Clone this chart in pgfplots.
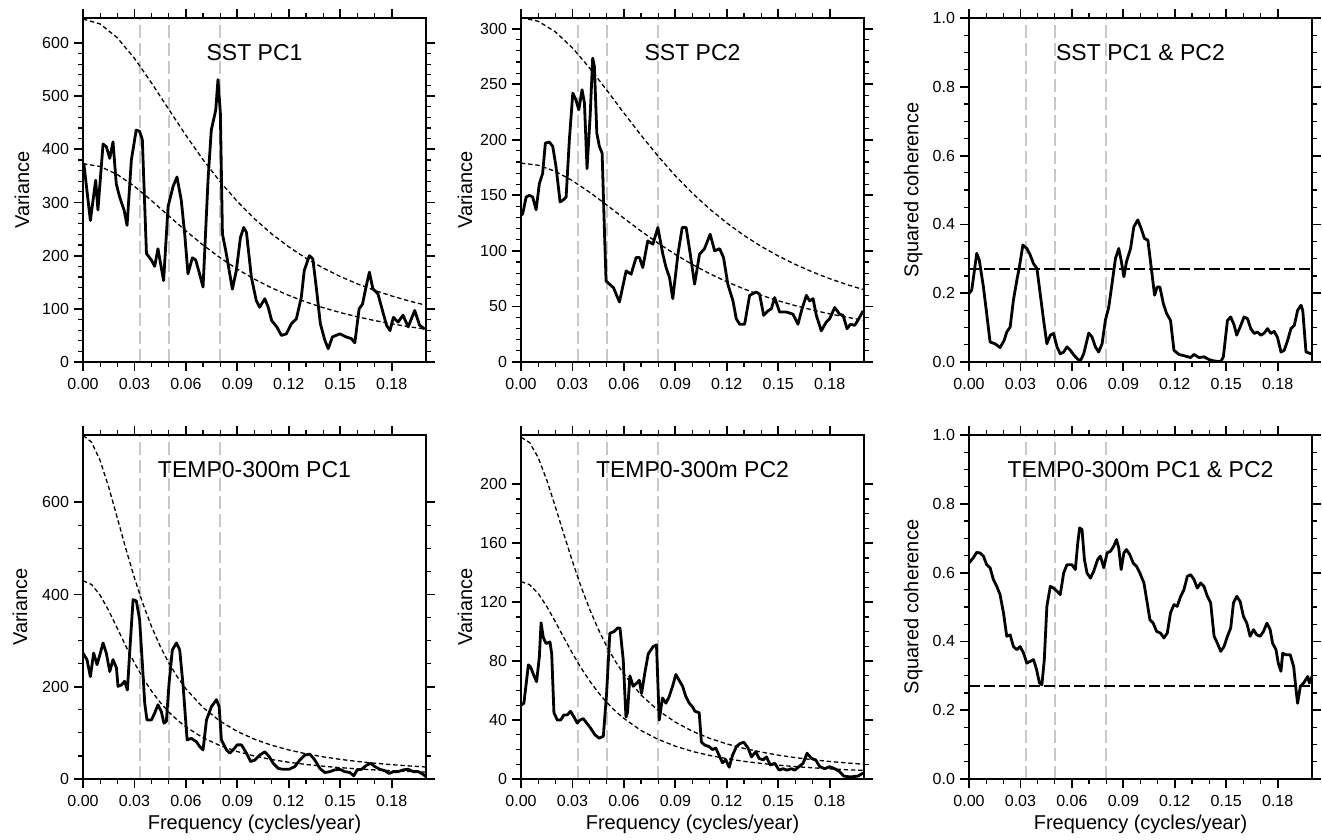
\documentclass[border=0pt]{standalone}
\usepackage{pgfplots}
\pgfplotsset{compat=1.18}
\usepackage{fontspec}
\setmainfont{Liberation Sans}
\definecolor{refgray}{RGB}{200,200,200}
\pgfplotsset{
  panel/.style={
    scale only axis, width=171.5pt, height=172pt,
    xmin=0, xmax=0.2, ymin=0,
    xtick={0,0.03,0.06,0.09,0.12,0.15,0.18},
    minor x tick num=2,
    scaled ticks=false,
    tick align=outside, tick pos=both,
    major tick length=4.5pt, minor tick length=2.5pt,
    every major tick/.style={black, line width=0.9pt},
    every minor tick/.style={black, line width=0.6pt},
    axis line style={line width=1pt},
    /pgf/number format/assume math mode=true,
    xticklabel style={/pgf/number format/.cd, fixed, fixed zerofill, precision=2},
    tick label style={font=\fontsize{8}{9}\selectfont},
    yticklabel style={xshift=1pt},
    label style={font=\fontsize{9.7}{11}\selectfont},
    axis on top,
    anchor=south west,
  },
  varax/.style={yticklabel style={/pgf/number format/.cd, fixed, precision=0}},
  cohax/.style={ymax=1, ytick={0,0.2,0.4,0.6,0.8,1.0}, minor y tick num=3,
    yticklabel style={/pgf/number format/.cd, fixed, fixed zerofill, precision=1},
    ylabel={Squared coherence}},
  xlab/.style={xlabel={Frequency (cycles/year)},
    every axis x label/.style={at={(axis description cs:0.5,-0.148)}, anchor=base}},
  ylab/.style={every axis y label/.style={at={(axis description cs:#1,0.5)}, rotate=90, anchor=center}},
  dat/.style={black, line width=1.4pt, line join=round},
  rn/.style={black, line width=0.65pt, dash pattern=on 2.2pt off 1.4pt},
  gl/.style={refgray, line width=0.75pt, dash pattern=on 6.5pt off 2.5pt},
  sig/.style={black, line width=0.7pt, dash pattern=on 5.5pt off 2pt},
}
\newcommand{\titlenode}[1]{\node[font=\fontsize{11.5}{13}\selectfont] at (rel axis cs:0.5,0.9) {#1};}
\begin{document}
\begin{tikzpicture}
\path[use as bounding box] (0,0) rectangle (661pt,-420pt);

% ---------------- SST PC1 ----------------
\begin{axis}[panel, varax, at={(41.5pt,-181pt)}, ymax=647,
  ytick={0,100,200,300,400,500,600}, minor y tick num=4,
  ylabel={Variance}, ylab=-0.178]
\addplot[gl] coordinates {(0.0333,0) (0.0333,647)};
\addplot[gl] coordinates {(0.05,0) (0.05,647)};
\addplot[gl] coordinates {(0.08,0) (0.08,647)};
\addplot[rn] coordinates {(0,645) (0.01,635.8) (0.02,609.8) (0.03,571.1) (0.04,524.6) (0.05,475.2) (0.06,426.3) (0.07,380.5) (0.08,338.9) (0.09,301.9) (0.10,269.4) (0.11,241.0) (0.12,216.5) (0.13,195.2) (0.14,176.8) (0.15,160.8) (0.16,146.9) (0.17,134.8) (0.18,124.2) (0.19,114.9) (0.20,106.7)};
\addplot[rn] coordinates {(0,373) (0.01,367.7) (0.02,352.7) (0.03,330.3) (0.04,303.4) (0.05,274.8) (0.06,246.6) (0.07,220.0) (0.08,196.0) (0.09,174.6) (0.10,155.8) (0.11,139.4) (0.12,125.2) (0.13,112.9) (0.14,102.2) (0.15,93.0) (0.16,85.0) (0.17,78.0) (0.18,71.8) (0.19,66.4) (0.20,61.7)};
\addplot[dat] coordinates {(0.0005,373) (0.0043,266) (0.0074,342) (0.0087,286) (0.0117,410) (0.0136,405) (0.0156,383) (0.0175,414) (0.0194,335) (0.0214,310) (0.0240,285) (0.0257,257) (0.0282,380) (0.0310,436) (0.0330,434) (0.0346,418) (0.0370,204) (0.0400,191) (0.0418,180) (0.0437,213) (0.0470,153) (0.0496,292) (0.0525,330) (0.0548,348) (0.0573,304) (0.0593,241) (0.0612,166) (0.0638,196) (0.0657,192) (0.0677,169) (0.0700,141) (0.0729,342) (0.0748,436) (0.0774,474) (0.0787,531) (0.0801,468) (0.0813,241) (0.0836,203) (0.0871,137) (0.0894,172) (0.0918,234) (0.0937,253) (0.0953,244) (0.0982,159) (0.1010,116) (0.1030,103) (0.1060,119) (0.1080,103) (0.1100,78) (0.1130,66) (0.1157,50) (0.1186,53) (0.1215,72) (0.1244,81) (0.1273,122) (0.1290,172) (0.1320,200) (0.1340,194) (0.1360,141) (0.1384,72) (0.1410,41) (0.1430,25) (0.1454,47) (0.1497,53) (0.1536,47) (0.1565,44) (0.1585,36) (0.1610,100) (0.1630,109) (0.1650,141) (0.1670,169) (0.1690,138) (0.1720,128) (0.1746,97) (0.1770,69) (0.1790,59) (0.1810,84) (0.1837,75) (0.1866,88) (0.1896,66) (0.1934,97) (0.1963,69) (0.1993,62)};
\titlenode{SST PC1}
\end{axis}

% ---------------- SST PC2 ----------------
\begin{axis}[panel, varax, at={(260.5pt,-181pt)}, ymax=309.6,
  ytick={0,50,100,150,200,250,300}, minor y tick num=4,
  ylabel={Variance}, ylab=-0.163]
\addplot[gl] coordinates {(0.0333,0) (0.0333,310)};
\addplot[gl] coordinates {(0.05,0) (0.05,310)};
\addplot[gl] coordinates {(0.08,0) (0.08,310)};
\addplot[rn] coordinates {(0,310) (0.01,306.7) (0.02,297.2) (0.03,282.7) (0.04,264.6) (0.05,244.7) (0.06,224.1) (0.07,204.1) (0.08,185.1) (0.09,167.6) (0.10,151.8) (0.11,137.7) (0.12,125.1) (0.13,113.9) (0.14,104.1) (0.15,95.4) (0.16,87.8) (0.17,81.0) (0.18,75.0) (0.19,69.7) (0.20,65.0)};
\addplot[rn] coordinates {(0,179) (0.01,177.1) (0.02,171.6) (0.03,163.2) (0.04,152.8) (0.05,141.3) (0.06,129.4) (0.07,117.8) (0.08,106.9) (0.09,96.8) (0.10,87.7) (0.11,79.5) (0.12,72.2) (0.13,65.8) (0.14,60.1) (0.15,55.1) (0.16,50.7) (0.17,46.8) (0.18,43.3) (0.19,40.3) (0.20,37.5)};
\addplot[dat] coordinates {(0,132) (0.001,133.5) (0.003,148.5) (0.0049,150) (0.0068,148.5) (0.0088,137) (0.0107,160.5) (0.0126,169.6) (0.0142,197) (0.0165,198) (0.0185,194) (0.0204,176) (0.0228,144) (0.0243,145.5) (0.0263,148.5) (0.0282,200) (0.0302,242) (0.032,236) (0.0337,227) (0.0356,245) (0.037,233) (0.0385,174) (0.0403,221) (0.0418,273.5) (0.0428,266) (0.0442,206) (0.0457,194) (0.0473,188) (0.0487,115.6) (0.0496,73) (0.0516,70) (0.0539,67) (0.0555,61) (0.0574,54) (0.0613,82) (0.0642,79) (0.0671,94) (0.0691,94) (0.071,85) (0.0739,109) (0.0769,106) (0.0798,121) (0.0827,97) (0.0846,85) (0.0866,76) (0.0885,57) (0.0915,97) (0.094,121) (0.0963,121) (0.0987,97) (0.1012,70) (0.1041,97) (0.107,102) (0.1103,115) (0.1129,100) (0.1158,102) (0.1181,94) (0.1206,70) (0.1236,55) (0.1255,39) (0.1275,34) (0.1304,34) (0.1333,60) (0.1372,63) (0.1391,61) (0.1415,42) (0.144,46) (0.146,48) (0.1479,58) (0.1508,45) (0.1547,45) (0.1586,43) (0.1615,34) (0.1635,46) (0.1664,60) (0.1683,55) (0.1703,57) (0.1722,42) (0.1751,28) (0.178,36) (0.18,39) (0.1829,49) (0.1858,43) (0.1878,42) (0.1901,30) (0.1921,34) (0.1946,33) (0.197,39) (0.1995,46)};
\titlenode{SST PC2}
\end{axis}

% ---------------- SST coherence ----------------
\begin{axis}[panel, cohax, at={(484.5pt,-181pt)}, ylab=-0.163]
\addplot[gl] coordinates {(0.0333,0) (0.0333,1)};
\addplot[gl] coordinates {(0.05,0) (0.05,1)};
\addplot[gl] coordinates {(0.08,0) (0.08,1)};
\addplot[sig] coordinates {(0,0.27) (0.2,0.27)};
\addplot[dat] coordinates {(0,0.199) (0.0016,0.209) (0.0045,0.316) (0.006,0.296) (0.0084,0.218) (0.0103,0.141) (0.0123,0.058) (0.0152,0.053) (0.0181,0.042) (0.0205,0.063) (0.022,0.087) (0.024,0.102) (0.0259,0.18) (0.0279,0.238) (0.0294,0.277) (0.0314,0.34) (0.0337,0.33) (0.0357,0.311) (0.0376,0.286) (0.0396,0.272) (0.0415,0.199) (0.0435,0.121) (0.0454,0.053) (0.0474,0.078) (0.0493,0.083) (0.0513,0.044) (0.0532,0.024) (0.0552,0.029) (0.0571,0.044) (0.0591,0.034) (0.061,0.021) (0.063,0.010) (0.0649,0.003) (0.0669,0.024) (0.0698,0.084) (0.0717,0.073) (0.0737,0.044) (0.0756,0.029) (0.0776,0.053) (0.0795,0.121) (0.0815,0.16) (0.0834,0.228) (0.0854,0.301) (0.0873,0.33) (0.0887,0.296) (0.0903,0.248) (0.0918,0.291) (0.0942,0.33) (0.0961,0.393) (0.0984,0.413) (0.1004,0.388) (0.1023,0.359) (0.1043,0.354) (0.1062,0.277) (0.1082,0.194) (0.1097,0.218) (0.1113,0.218) (0.1133,0.17) (0.1152,0.141) (0.1175,0.121) (0.1195,0.034) (0.1224,0.022) (0.1263,0.017) (0.1292,0.013) (0.1312,0.022) (0.1341,0.013) (0.137,0.015) (0.14,0.007) (0.1429,0.003) (0.1468,0.001) (0.1483,0.015) (0.1507,0.121) (0.1526,0.131) (0.1546,0.107) (0.1561,0.078) (0.1581,0.102) (0.1604,0.131) (0.1624,0.126) (0.1643,0.097) (0.1663,0.083) (0.1682,0.087) (0.1702,0.078) (0.1721,0.084) (0.1741,0.097) (0.176,0.083) (0.178,0.089) (0.1799,0.071) (0.1819,0.029) (0.1838,0.034) (0.1858,0.063) (0.1877,0.097) (0.1897,0.107) (0.1916,0.15) (0.1936,0.165) (0.1946,0.15) (0.1965,0.029) (0.1995,0.024)};
\titlenode{SST PC1 \& PC2}
\end{axis}

% ---------------- TEMP PC1 ----------------
\begin{axis}[panel, varax, xlab, at={(41.5pt,-389.5pt)}, ymax=746,
  ytick={0,200,400,600}, minor y tick num=3,
  ylabel={Variance}, ylab=-0.184]
\addplot[gl] coordinates {(0.0333,0) (0.0333,746)};
\addplot[gl] coordinates {(0.05,0) (0.05,746)};
\addplot[gl] coordinates {(0.08,0) (0.08,746)};
\addplot[rn] coordinates {(0,745) (0.005,730.5) (0.01,690.6) (0.015,632.7) (0.02,566.3) (0.025,499.2) (0.03,436.0) (0.035,379.5) (0.04,330.1) (0.045,287.9) (0.05,251.9) (0.055,221.4) (0.06,195.6) (0.07,155.0) (0.08,125.2) (0.09,103.1) (0.10,86.3) (0.11,73.2) (0.12,63.0) (0.13,54.7) (0.14,48.1) (0.15,42.6) (0.16,38.1) (0.17,34.3) (0.18,31.1) (0.19,28.4) (0.20,26.0)};
\addplot[rn] coordinates {(0,430) (0.005,421.7) (0.01,398.6) (0.015,365.2) (0.02,326.9) (0.025,288.1) (0.03,251.7) (0.035,219.0) (0.04,190.5) (0.045,166.2) (0.05,145.4) (0.055,127.8) (0.06,112.9) (0.07,89.4) (0.08,72.3) (0.09,59.5) (0.10,49.8) (0.11,42.2) (0.12,36.3) (0.13,31.6) (0.14,27.7) (0.15,24.6) (0.16,22.0) (0.17,19.8) (0.18,17.9) (0.19,16.4) (0.20,15.0)};
\addplot[dat] coordinates {(0,273) (0.0023,259) (0.0043,222) (0.0062,273) (0.0082,248) (0.0101,273) (0.0117,295) (0.0136,273) (0.0156,233) (0.0175,259) (0.0195,241) (0.0204,201) (0.0224,204) (0.0243,212) (0.0259,193) (0.0272,273) (0.0292,389) (0.0311,386) (0.033,346) (0.0346,251) (0.036,164) (0.0373,128) (0.0399,128) (0.0418,143) (0.0437,161) (0.0457,146) (0.0472,121) (0.0486,125) (0.0502,208) (0.0521,280) (0.0545,295) (0.0564,280) (0.0584,201) (0.0607,85) (0.0632,88) (0.0661,81) (0.0681,70) (0.07,63) (0.072,128) (0.0749,157) (0.0778,172) (0.0794,157) (0.0807,85) (0.0837,63) (0.0856,56) (0.0875,63) (0.0899,74) (0.0924,74) (0.0953,56) (0.0977,38) (0.1002,41) (0.1031,52) (0.106,59) (0.1085,49) (0.1109,34) (0.1138,23) (0.1167,21) (0.1202,21) (0.1235,27) (0.1264,41) (0.1294,52) (0.1323,54) (0.1352,41) (0.1381,23) (0.141,14) (0.144,16) (0.1469,20) (0.1498,21) (0.1527,16) (0.1556,14) (0.1579,7) (0.1599,20) (0.1624,21) (0.1654,30) (0.1677,34) (0.1702,27) (0.1731,21) (0.176,18) (0.1786,12) (0.1809,16) (0.1838,16) (0.1868,20) (0.1897,21) (0.1926,16) (0.1955,16) (0.198,11) (0.2,5)};
\titlenode{TEMP0-300m PC1}
\end{axis}

% ---------------- TEMP PC2 ----------------
\begin{axis}[panel, varax, xlab, at={(260.5pt,-389.5pt)}, ymax=233.5,
  ytick={0,40,80,120,160,200}, minor y tick num=3,
  ylabel={Variance}, ylab=-0.163]
\addplot[gl] coordinates {(0.0333,0) (0.0333,234)};
\addplot[gl] coordinates {(0.05,0) (0.05,234)};
\addplot[gl] coordinates {(0.08,0) (0.08,234)};
\addplot[rn] coordinates {(0,232) (0.005,228.4) (0.01,218.2) (0.015,203.0) (0.02,184.9) (0.025,166.1) (0.03,147.7) (0.035,130.6) (0.04,115.3) (0.045,101.8) (0.05,90.0) (0.055,79.9) (0.06,71.1) (0.07,57.0) (0.08,46.5) (0.09,38.6) (0.10,32.4) (0.11,27.6) (0.12,23.8) (0.13,20.8) (0.14,18.3) (0.15,16.2) (0.16,14.5) (0.17,13.1) (0.18,11.9) (0.19,10.9) (0.20,10.0)};
\addplot[rn] coordinates {(0,134) (0.005,131.9) (0.01,126.0) (0.015,117.2) (0.02,106.8) (0.025,95.9) (0.03,85.3) (0.035,75.4) (0.04,66.6) (0.045,58.8) (0.05,52.0) (0.055,46.1) (0.06,41.1) (0.07,32.9) (0.08,26.9) (0.09,22.3) (0.10,18.7) (0.11,16.0) (0.12,13.8) (0.13,12.0) (0.14,10.6) (0.15,9.4) (0.16,8.4) (0.17,7.6) (0.18,6.9) (0.19,6.3) (0.20,5.8)};
\addplot[dat] coordinates {(0,50) (0.0017,51.5) (0.0043,77.5) (0.0056,76) (0.0076,70) (0.0091,66) (0.0107,83) (0.0117,106) (0.013,96) (0.0146,92) (0.0169,93) (0.0179,85) (0.0192,45) (0.0212,40) (0.0231,40) (0.025,43.5) (0.027,43.5) (0.0289,46) (0.0309,42) (0.0328,38) (0.0344,40) (0.0363,41) (0.0383,38) (0.0406,34.5) (0.0431,30) (0.0456,27.7) (0.048,29) (0.0499,58) (0.0518,99) (0.0542,100) (0.0563,102.5) (0.0577,102.5) (0.0596,81) (0.0612,42) (0.0621,45) (0.0635,70) (0.0654,63) (0.0674,65) (0.069,67) (0.0703,58) (0.0722,72) (0.0742,85) (0.0771,90) (0.079,91) (0.0806,40) (0.0825,55) (0.0845,51.5) (0.0864,56) (0.0884,63) (0.0903,71) (0.0922,67) (0.0942,63) (0.0961,56) (0.0981,51.5) (0.1,49) (0.1014,46) (0.1039,45) (0.1052,25) (0.1072,23) (0.1097,22) (0.1117,20) (0.1136,21) (0.1155,16) (0.1175,11) (0.1194,13) (0.1214,8) (0.1233,16) (0.1256,22) (0.1276,24) (0.1299,25) (0.1324,21) (0.1344,15) (0.1369,18.6) (0.1388,14) (0.1412,13) (0.1431,15) (0.1454,9.5) (0.148,10.7) (0.1505,6) (0.1528,7) (0.1551,6) (0.1577,7) (0.1596,6) (0.1621,8.4) (0.1645,10.7) (0.1668,17.5) (0.1693,14) (0.1718,13) (0.1742,8.4) (0.1771,7) (0.18,8.4) (0.1829,7) (0.1858,5) (0.1882,2) (0.1907,1.6) (0.1936,1.6) (0.1965,2) (0.1995,4)};
\titlenode{TEMP0-300m PC2}
\end{axis}

% ---------------- TEMP coherence ----------------
\begin{axis}[panel, cohax, xlab, at={(484.5pt,-389.5pt)}, ylab=-0.163]
\addplot[gl] coordinates {(0.0333,0) (0.0333,1)};
\addplot[gl] coordinates {(0.05,0) (0.05,1)};
\addplot[gl] coordinates {(0.08,0) (0.08,1)};
\addplot[sig] coordinates {(0,0.27) (0.2,0.27)};
\addplot[dat] coordinates {(0,0.628) (0.0025,0.643) (0.0045,0.659) (0.0064,0.657) (0.0084,0.648) (0.0103,0.623) (0.0123,0.614) (0.0142,0.58) (0.0162,0.56) (0.0181,0.536) (0.0201,0.483) (0.022,0.415) (0.024,0.419) (0.0259,0.385) (0.0279,0.376) (0.0298,0.385) (0.0318,0.366) (0.0337,0.337) (0.0357,0.342) (0.0376,0.347) (0.0392,0.322) (0.0411,0.279) (0.0425,0.274) (0.0439,0.347) (0.0454,0.502) (0.0474,0.56) (0.0493,0.555) (0.0513,0.546) (0.0532,0.536) (0.0552,0.599) (0.0571,0.623) (0.06,0.623) (0.062,0.609) (0.0634,0.686) (0.0645,0.73) (0.0659,0.725) (0.0673,0.638) (0.0688,0.599) (0.0708,0.584) (0.0727,0.604) (0.075,0.638) (0.0766,0.648) (0.0786,0.614) (0.0805,0.657) (0.0825,0.662) (0.0844,0.677) (0.086,0.696) (0.0873,0.672) (0.0887,0.609) (0.0903,0.657) (0.0918,0.667) (0.0938,0.652) (0.0957,0.628) (0.0977,0.618) (0.0996,0.599) (0.102,0.57) (0.1039,0.512) (0.1055,0.463) (0.1074,0.453) (0.1094,0.429) (0.1117,0.424) (0.1136,0.41) (0.1156,0.424) (0.1175,0.483) (0.1195,0.507) (0.1214,0.502) (0.1234,0.531) (0.1253,0.55) (0.1273,0.589) (0.1292,0.594) (0.1312,0.58) (0.1331,0.555) (0.1351,0.57) (0.137,0.56) (0.139,0.531) (0.1409,0.512) (0.1429,0.415) (0.1448,0.395) (0.1468,0.371) (0.1487,0.385) (0.1507,0.415) (0.1526,0.439) (0.1542,0.512) (0.1561,0.531) (0.1581,0.516) (0.16,0.473) (0.162,0.453) (0.1639,0.415) (0.1659,0.434) (0.1678,0.419) (0.1698,0.415) (0.1717,0.429) (0.1737,0.453) (0.1756,0.434) (0.177,0.395) (0.179,0.376) (0.1803,0.337) (0.1819,0.313) (0.1829,0.366) (0.1848,0.361) (0.1873,0.361) (0.1893,0.327) (0.1907,0.259) (0.1916,0.22) (0.1932,0.269) (0.1951,0.279) (0.1975,0.298) (0.1984,0.279) (0.2,0.298)};
\titlenode{TEMP0-300m PC1 \& PC2}
\end{axis}
\end{tikzpicture}
\end{document}
